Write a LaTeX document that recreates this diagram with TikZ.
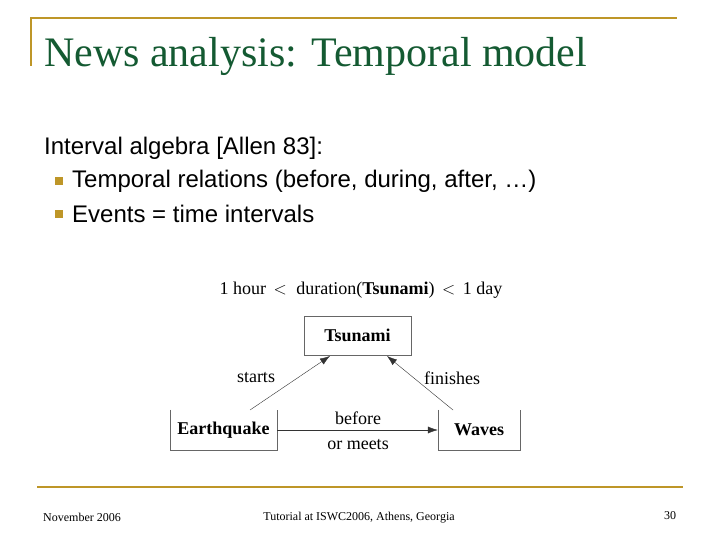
\documentclass[tikz,border=0pt]{standalone}
\usepackage{fontspec}
\setmainfont{Liberation Serif}
\newfontfamily\bodyfont{Liberation Sans}
\usetikzlibrary{arrows.meta}
\definecolor{gold}{RGB}{190,150,40}
\definecolor{titlegreen}{RGB}{20,90,50}
\begin{document}
\begin{tikzpicture}[x=1pt,y=-1pt,
  body/.style={font=\bodyfont\fontsize{24}{28}\selectfont,anchor=west,inner sep=0pt},
  bul/.style={fill=gold,minimum size=8pt,inner sep=0pt},
  lab/.style={font=\fontsize{18}{21}\selectfont,inner sep=0pt},
  box/.style={draw=black!60,font=\bfseries\fontsize{18}{21}\selectfont,inner sep=0pt},
  arr/.style={-{Latex[length=10pt,width=7pt]},black!80},
  foot/.style={font=\fontsize{12}{14}\selectfont,inner sep=0pt}]
\useasboundingbox (0,0) rectangle (720,540);
\fill[white] (0,0) rectangle (720,540);
\draw[gold,line width=2.5pt] (31,66) -- (31,18) -- (677,18);
\node[anchor=base west,text=titlegreen,font=\fontsize{42}{46}\selectfont,inner sep=0pt] (title) at (44,67) {News analysis: Temporal model};
\node[body] (t1) at (44,148) {Interval algebra [Allen 83]:};
\node[bul] (b1) at (59,181) {};
\node[body] (t2) at (72,181) {Temporal relations (before, during, after, \dots)};
\node[bul] (b2) at (59,214) {};
\node[body] (t3) at (72,214) {Events = time intervals};
\node[lab] (dur) at (361,290) {1 hour \,$<$\; duration(\textbf{Tsunami}) \,$<$\, 1 day};
\node[box,minimum width=107pt,minimum height=39pt] (ts) at (357.5,335.5) {Tsunami};
\node[box,draw=none,minimum width=107pt,minimum height=40pt] (eq) at (223.5,430) {Earthquake};
\draw[black!60] (eq.north west) -- (eq.south west) -- (eq.south east) -- (eq.north east);
\node[box,draw=none,minimum width=82pt,minimum height=40pt] (wv) at (479,430) {Waves};
\draw[black!60] (wv.north west) -- (wv.south west) -- (wv.south east) -- (wv.north east);
\coordinate (es) at (250,410);
\coordinate (ws) at (453,410);
\draw[arr] (es) -- (330,356) coordinate (te);
\draw[arr] (ws) -- (387,356) coordinate (tf);
\draw[arr] (eq.east) -- (wv.west);
\node[lab] (l1) at (256,378) {starts};
\node[lab] (l2) at (452,378) {finishes};
\node[lab] (l3) at (358,418) {before};
\node[lab] (l4) at (358,445) {or meets};
\draw[gold,line width=1.5pt] (37,487) -- (683,487);
\node[foot] (f1) at (82,517) {November 2006};
\node[foot] (f2) at (359,518) {Tutorial at ISWC2006, Athens, Georgia};
\node[foot] (f3) at (670,516) {30};
\end{tikzpicture}
\end{document}
